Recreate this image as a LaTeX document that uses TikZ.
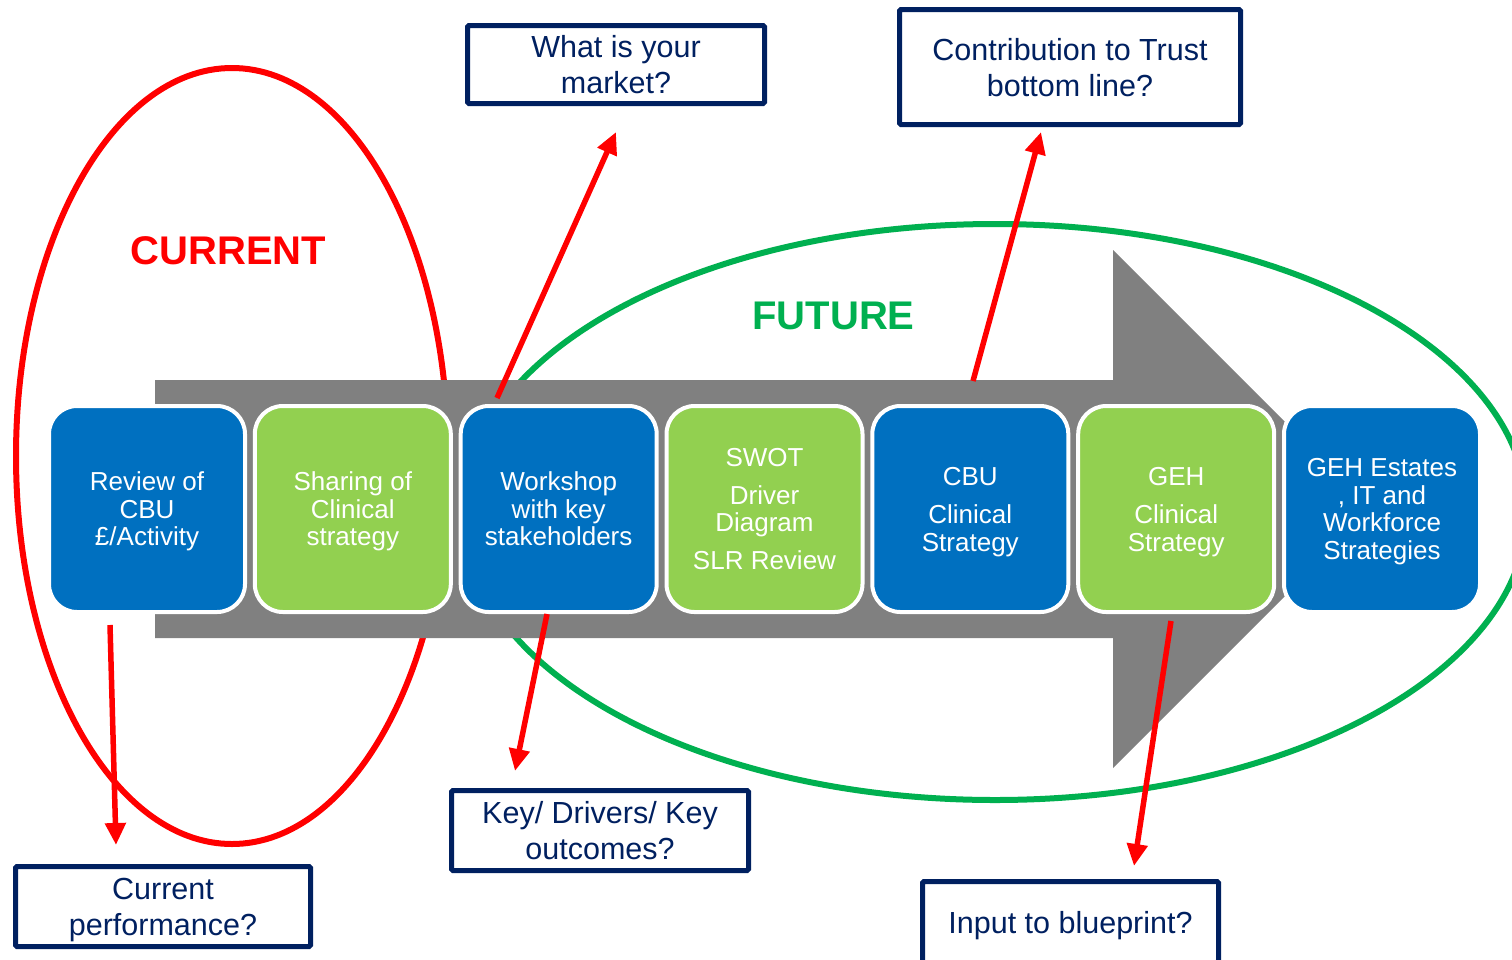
\documentclass[tikz,border=0pt]{standalone}
\usepackage{fontspec}
\setmainfont{Liberation Sans}
\usetikzlibrary{arrows.meta,calc}
\definecolor{cblue}{HTML}{0070C0}
\definecolor{cgreen}{HTML}{92D050}
\definecolor{fgreen}{HTML}{00B050}
\definecolor{navy}{HTML}{002060}
\definecolor{agray}{HTML}{808080}
\definecolor{cred}{HTML}{FF0000}
\tikzset{
  stagebox/.style={rounded corners=28pt, draw=white, line width=4pt,
    minimum width=196pt, minimum height=206pt, inner sep=0pt, text=white,
    align=center, font=\fontsize{26}{27.5}\selectfont, text depth=0pt},
  bluebox/.style={stagebox, fill=cblue},
  greenbox/.style={stagebox, fill=cgreen},
  qbox/.style={draw=navy, line width=5pt, fill=white, inner sep=0pt,
    text=navy, align=center, font=\fontsize{30.5}{36}\selectfont,
    rounded corners=1.5pt, text depth=-3pt},
  conn/.style={draw=cred, line width=5.5pt, -{Triangle[width=20pt,length=22pt]}},
  zone/.style={line width=6pt},
  zonelabel/.style={font=\bfseries\fontsize{40}{48}\selectfont, inner sep=0pt}
}
\begin{document}
\begin{tikzpicture}[x=1pt,y=1pt]
\useasboundingbox (0,0) rectangle (1512,-959);
\clip (0,0) rectangle (1512,-959);
\fill[white] (0,0) rectangle (1512,-959);

% zones
\draw[cred, zone] (232,-456) ellipse [x radius=216pt, y radius=388pt];
\draw[fgreen, zone] (995,-512) ellipse [x radius=532pt, y radius=288pt];

% big gray arrow
\fill[agray] (155,-380) -- (1113,-380) -- (1113,-250) -- (1372,-509)
  -- (1113,-768) -- (1113,-638) -- (155,-638) -- cycle;

% stages
\node[bluebox]  (s1) at (147,-509)    {Review of\\CBU\\£/Activity};
\node[greenbox] (s2) at (352.8,-509)  {Sharing of\\Clinical\\strategy};
\node[bluebox]  (s3) at (558.7,-509)  {Workshop\\with key\\stakeholders};
\node[greenbox] (s4) at (764.5,-509)  {SWOT\\[10pt]Driver\\Diagram\\[10pt]SLR Review};
\node[bluebox]  (s5) at (970.3,-509)  {CBU\\[11pt]Clinical\\Strategy};
\node[greenbox] (s6) at (1176.2,-509) {GEH\\[11pt]Clinical\\Strategy};
\node[bluebox]  (s7) at (1382,-509)   {GEH Estates\\, IT and\\Workforce\\Strategies};

% question boxes
\node[qbox, minimum width=295pt, minimum height=80pt]  (qcur) at (163,-906.5) {Current\\performance?};
\node[qbox, minimum width=297pt, minimum height=78pt]  (qmkt) at (616,-64.5) {What is your\\market?};
\node[qbox, minimum width=341pt, minimum height=115pt] (qcon) at (1070,-67) {Contribution to Trust\\bottom line?};
\node[qbox, minimum width=297pt, minimum height=80pt]  (qkey) at (600,-830.5) {Key/ Drivers/ Key\\outcomes?};
\node[qbox, minimum width=296pt, minimum height=81pt]  (qinp) at (1070.5,-922) {Input to blueprint?};

% connectors
\draw[conn] ([shift={(-37,-11)}]s1.south) -- ([shift={(-47,19)}]qcur.north);
\draw[conn] ([shift={(-61.7,6)}]s3.north) -- ([shift={(0,-26)}]qmkt.south);
\draw[conn] ([shift={(-11.7,0)}]s3.south) -- ([shift={(-85,17)}]qkey.north);
\draw[conn] ([shift={(2.7,23)}]s5.north) -- ([shift={(-29,-5)}]qcon.south);
\draw[conn] ([shift={(-5.2,-7)}]s6.south) -- ([shift={(63.5,13)}]qinp.north);

% zone labels
\node[zonelabel, text=cred]   (tcur) at (228.5,-250.5) {CURRENT};
\node[zonelabel, text=fgreen] (tfut) at (833.5,-315.5) {FUTURE};
\end{tikzpicture}
\end{document}
